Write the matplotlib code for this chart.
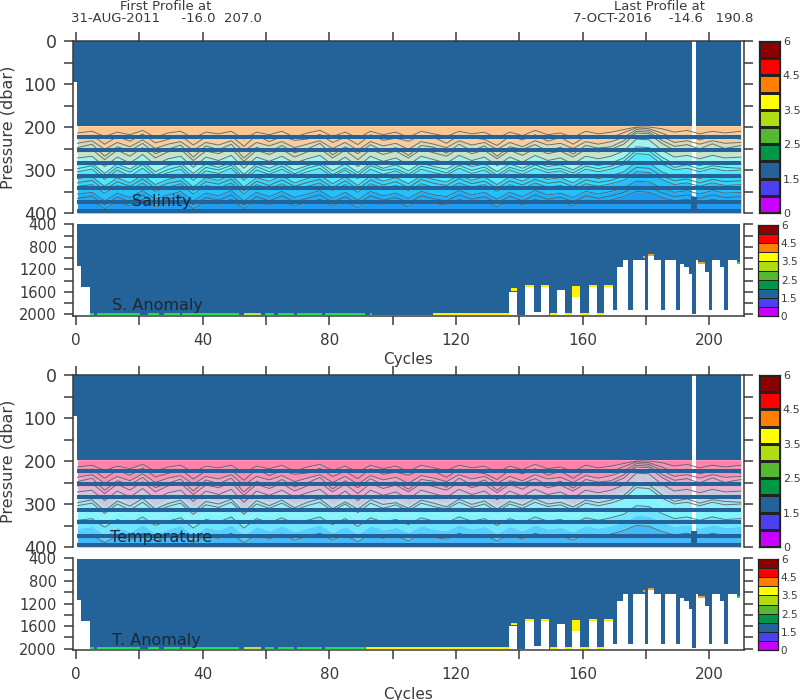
import numpy as np
import matplotlib
matplotlib.use('Agg')
import matplotlib.pyplot as plt
from matplotlib.colors import ListedColormap

W, H = 800., 700.
INK = '#3a3a3a'
BLUE = '#236399'

iso_cycles = [0.4] + list(range(5, 206, 4)) + [210]

# isoline pressures (dbar), upper ocean, top to bottom
iso0 = [214,210,222,212,218,208,224,214,210,226,212,216,210,228,212,218,210,224,214,208,222,212,226,210,218,212,224,210,216,222,210,216,212,226,212,220,208,218,214,224,210,216,212,206,200,200,204,212,208,216,210,214,210]
iso1 = [238,232,252,236,246,230,250,240,234,254,236,242,232,256,236,244,234,248,240,232,250,236,254,234,244,238,252,234,240,248,232,242,236,252,236,246,232,242,238,250,234,240,234,224,206,208,222,236,232,240,232,238,236]
iso2 = [258,252,276,254,268,248,272,258,252,278,256,262,250,280,254,264,252,270,258,250,272,254,276,252,264,256,272,252,260,268,250,262,254,274,254,266,250,262,256,270,252,258,252,240,214,216,238,254,250,258,250,256,254]
iso3 = [272,268,292,270,284,264,288,274,268,294,270,278,266,296,270,280,268,284,274,266,288,270,292,268,280,272,288,268,276,284,266,278,270,290,270,282,266,278,272,286,268,274,268,256,228,230,254,270,266,274,266,272,270]
iso4 = [288,284,308,286,298,280,304,290,284,308,286,294,282,310,286,296,284,300,290,282,302,286,306,284,296,288,302,284,292,298,282,292,286,304,286,296,282,292,288,300,284,290,284,272,246,248,270,286,282,290,282,288,286]
iso5 = [304,298,322,300,314,296,318,306,298,324,302,308,296,324,300,310,298,314,304,296,316,300,320,298,310,302,316,298,306,312,296,308,300,318,300,310,296,306,302,314,298,304,298,288,262,264,286,300,296,304,296,302,300]
iso6 = [320,316,338,318,330,312,334,322,316,340,318,324,312,340,318,326,314,330,320,312,332,316,336,314,326,318,332,314,322,328,312,324,316,334,316,326,312,322,318,330,314,320,314,304,282,284,304,316,312,320,312,318,316]
iso7 = [338,334,354,336,346,330,350,340,332,356,336,342,330,356,334,344,332,346,338,330,348,334,352,332,342,336,348,332,340,344,330,340,334,350,334,344,330,340,336,346,332,338,332,324,304,306,322,334,330,338,330,336,334]
iso8 = [356,352,372,354,364,348,368,358,350,372,354,360,348,372,352,362,350,364,356,348,366,352,370,350,360,354,366,350,358,362,348,358,352,368,352,362,348,358,354,364,350,356,350,342,326,328,342,352,348,356,348,354,352]
iso9 = [376,372,390,374,384,368,386,378,370,390,374,380,368,390,372,382,370,384,376,368,384,372,388,370,380,374,386,370,378,382,368,378,372,386,372,382,368,378,374,384,370,376,370,362,350,352,364,372,368,376,368,374,372]
isolines = [iso0, iso1, iso2, iso3, iso4, iso5, iso6, iso7, iso8, iso9]

# in-between contours, drawn as lines only
extra_a = [226,219,240,222,233,216,237,229,220,242,223,227,221,245,219,234,222,231,228,217,236,224,241,218,231,226,233,220,224,238,219,225,229,243,221,230,218,233,224,240,222,227,225,213,202,204,214,226,219,230,222,224,228]
extra_b = [248,240,268,246,255,238,262,252,242,270,244,253,240,272,247,258,243,260,251,238,265,246,262,241,256,248,266,243,247,261,240,255,244,268,246,252,241,256,247,263,243,249,246,232,210,212,231,245,241,251,239,250,243]
extra_c = [297,290,316,293,305,287,312,299,291,318,294,300,289,319,292,304,291,309,296,288,311,295,312,290,301,297,310,291,298,307,289,301,293,312,294,303,288,300,296,307,291,297,291,280,254,256,278,294,288,298,290,294,296]
extra_d = [330,324,347,327,338,321,342,331,325,348,327,333,321,349,326,336,323,338,329,322,341,325,345,323,335,327,341,322,331,336,320,332,326,343,325,335,322,331,327,339,323,329,324,314,294,296,314,325,321,330,322,327,325]
extra_e = [366,361,381,363,374,358,377,368,360,381,364,370,358,382,362,372,360,374,366,358,375,362,379,360,370,364,376,360,367,372,358,368,362,377,361,372,358,368,363,374,360,366,360,352,338,340,353,362,358,366,358,364,362]
sal_extras = [extra_a, extra_b, extra_c, extra_d, extra_e]
tem_extras = [extra_a, extra_b, extra_c]

# measured levels that stay flagged blue
bar_levels = [223, 254, 283, 314, 343, 374, 395]

# band colours between the isolines
sal_bands = ['#FDC68F', '#F7CDA0', '#D2DCBC', '#C6E4CB', '#A0F4EE', '#66F6FF', '#4FE8FF', '#33D6FF', '#22C0FF', '#1EAEFF', '#1E9CF5']
tem_bands = ['#FF82A8', '#FA90B5', '#F0A5C8', '#E8B0D2', '#C9C8DC', '#B4DCEA', '#8DF2FF', '#80F5FF', '#6FE6FF', '#55CFFF', '#45B8FA']

# deep part: runs of cycles and how far the profile went down
deep_start = [0.4, 1.4, 4.4, 136.8, 139.4, 141.9, 144.5, 146.8, 149.5, 151.9, 154.5, 156.8, 159.3, 161.9, 164.5, 166.8, 169.6, 170.8, 172.9, 174.5, 175.8, 178.7, 179.8, 180.8, 182.6, 184.7, 185.9, 189.6, 190.8, 191.9, 193.6, 194.6, 195.9, 196.6, 198.7, 199.8, 200.8, 203.5, 204.7, 205.9, 208.7]
deep_end = [1.4, 4.4, 136.8, 139.4, 141.9, 144.5, 146.8, 149.5, 151.9, 154.5, 156.8, 159.3, 161.9, 164.5, 166.8, 169.6, 170.8, 172.9, 174.5, 175.8, 178.7, 179.8, 180.8, 182.6, 184.7, 185.9, 189.6, 190.8, 191.9, 193.6, 194.6, 195.9, 196.6, 198.7, 199.8, 200.8, 203.5, 204.7, 205.9, 208.7, 209.8]
deep_bottom = [1140, 1510, 2010, 1600, 2010, 1513, 1950, 1513, 2010, 1570, 2010, 1513, 2010, 1513, 2010, 1513, 1920, 1150, 1035, 1920, 1035, 1035, 1920, 960, 1035, 1920, 1035, 1920, 1100, 1150, 1290, 1990, 1035, 1100, 1240, 1920, 1035, 1150, 1920, 1035, 1100]

# coloured cells at the very bottom of the deep panels
s_strip_start = [4.4, 6.5, 22.6, 27.8, 33.4, 52.9, 59.7, 63.7, 69.7, 78.7, 92.9, 112.6, 149.7, 154.5, 159.3, 164.5]
s_strip_end = [5.5, 20.2, 26.2, 32.8, 51.3, 58.5, 62.6, 68.7, 77.6, 91.3, 93.5, 136.8, 151.9, 156.8, 161.9, 166.8]
s_strip_col = ['#22DD55'] * 5 + ['#B4E64B'] + ['#22DD55'] * 5 + ['#FFF000'] * 5
t_strip_start = [4.4, 6.5, 22.6, 27.8, 33.4, 52.9, 59.7, 63.7, 69.7, 78.7, 91.5, 149.7, 154.5, 159.3, 164.5]
t_strip_end = [5.5, 20.2, 26.2, 32.8, 51.3, 58.5, 62.6, 68.7, 77.6, 91.3, 136.8, 151.9, 156.8, 161.9, 166.8]
t_strip_col = ['#22DD55'] * 5 + ['#B4E64B'] + ['#22DD55'] * 4 + ['#FFF000'] * 5

# caps on top of the shallow profiles
cap_start = [137.5, 141.9, 146.8, 156.8, 161.9, 166.8, 179.0, 180.8, 196.6, 208.7]
cap_end = [139.4, 144.5, 149.5, 159.3, 164.5, 169.6, 179.8, 182.6, 198.7, 209.8]
cap_top = [1540, 1480, 1480, 1490, 1480, 1480, 960, 930, 1070, 1070]
cap_bot = [1580, 1513, 1513, 1690, 1513, 1513, 1000, 960, 1100, 1110]
cap_col = ['#FFF000', '#FFF000', '#FFF000', '#FFF000', '#FFF000', '#FFF000', '#F0A030', '#F0A030', '#F0A030', '#22DD55']

bar_colors = ['#C800FF', '#4B40F0', BLUE, '#009646', '#55B82E', '#B0DC14', '#FFFF00', '#FF7F00', '#FF0000', '#8B0000']
bar_ticks = [0, 2, 4, 6, 8, 10]
bar_labels = ['0', '1.5', '2.5', '3.5', '4.5', '6']


def px_axes(x0, y0, x1, y1):
    return plt.gcf().add_axes([x0 / W, 1 - y1 / H, (x1 - x0) / W, (y1 - y0) / H])


def style(ax):
    for s in ax.spines.values():
        s.set_linewidth(1.1)
        s.set_color(INK)
    ax.set_xlim(-1, 211)
    ax.set_xticks(range(0, 201, 20))


def upper_panel(y0, y1, bands, label, contour_idx, extras, label_pos):
    ax = px_axes(73, y0, 744, y1)
    style(ax)
    ax.set_ylim(400, 0)
    ax.set_yticks(range(0, 401, 50))
    ax.set_yticklabels([str(v) if v % 100 == 0 else '' for v in range(0, 401, 50)], fontsize=12.5, color=INK)
    ax.tick_params(axis='y', left=True, right=True, length=6.8, width=1.1, color=INK, pad=5)
    ax.tick_params(axis='x', top=True, bottom=False, labelbottom=False, length=6.8, width=1.1, color=INK)
    ax.spines['bottom'].set_visible(False)
    ax.set_ylabel('Pressure (dbar)', fontsize=11.5, color=INK)
    ax.yaxis.set_label_coords((16 - 73) / 671., 0.5)

    ax.bar(-1, 95, width=1.4, bottom=0, align='edge', color=BLUE, lw=0)
    ax.bar(0.4, 198, width=209.6, bottom=0, align='edge', color=BLUE, lw=0)

    x = np.array(iso_cycles, dtype=float)
    edges = [np.full(len(x), 197.)] + [np.array(l, dtype=float) for l in isolines] + [np.full(len(x), 400.)]
    for i in range(len(bands)):
        ax.fill_between(x, edges[i], edges[i + 1], color=bands[i], lw=0)
    for i in contour_idx:
        ax.plot(x, isolines[i], color='#4f5f5f', lw=0.7, alpha=0.85)
    for line in extras:
        ax.plot(x, line, color='#4f5f5f', lw=0.7, alpha=0.85)
    ax.hlines(bar_levels, 0.4, 210, color=BLUE, lw=2.9)
    ax.bar(194.4, 37, width=1.7, bottom=363, align='edge', color=BLUE, lw=0)
    ax.bar(194.6, 363, width=1.3, bottom=0, align='edge', color='white', lw=0)
    ax.text(label_pos[0], label_pos[1], label, fontsize=11.5, color='#1c2833', va='center')
    return ax


def lower_panel(y0, y1, strip_start, strip_end, strip_col, label, label_pos):
    ax = px_axes(73, y0, 744, y1)
    style(ax)
    ax.set_ylim(2020, 400)
    ax.set_yticks(range(400, 2001, 200))
    ax.set_yticklabels([str(v) if v % 400 == 0 else '' for v in range(400, 2001, 200)], fontsize=10.5, color=INK)
    ax.tick_params(axis='y', left=True, right=True, length=6.8, width=1.1, color=INK, pad=5)
    ax.tick_params(axis='x', bottom=True, length=6.8, width=1.1, color=INK, pad=6)
    ax.set_xticklabels([str(v) if v % 40 == 0 else '' for v in range(0, 201, 20)], fontsize=11, color=INK)
    ax.spines['top'].set_visible(False)
    ax.set_xlabel('Cycles', fontsize=11, color=INK, labelpad=3)

    s = np.array(deep_start)
    e = np.array(deep_end)
    b = np.array(deep_bottom, dtype=float)
    ax.bar(s, b - 400, width=e - s, bottom=400, align='edge', color=BLUE, lw=0)
    ss = np.array(strip_start)
    se = np.array(strip_end)
    ax.bar(ss, np.full(len(ss), 25.), width=se - ss, bottom=1980, align='edge', color=strip_col, lw=0)
    cs = np.array(cap_start)
    ce = np.array(cap_end)
    ax.bar(cs, np.array(cap_bot) - np.array(cap_top), width=ce - cs, bottom=cap_top, align='edge', color=cap_col, lw=0)
    ax.text(label_pos[0], label_pos[1], label, fontsize=11.5, color='#1c2833', va='center')
    return ax


def color_bar(x0, y0, x1, y1, fs, edge):
    ax = px_axes(x0, y0, x1, y1)
    cmap = ListedColormap(bar_colors)
    lv = np.arange(len(bar_colors) + 1)
    ax.pcolormesh([0, 1], lv, np.arange(len(bar_colors)).reshape(-1, 1), cmap=cmap, edgecolors='#222222', linewidth=edge)
    ax.set_xlim(0, 1)
    ax.set_ylim(0, 10)
    ax.set_xticks([])
    ax.yaxis.tick_right()
    ax.set_yticks(bar_ticks)
    ax.set_yticklabels(bar_labels, fontsize=fs, color=INK)
    ax.tick_params(axis='y', length=0, pad=2)
    for s in ax.spines.values():
        s.set_linewidth(0.9)
        s.set_color('#222222')


fig = plt.figure(figsize=(8, 7), dpi=100)

upper_panel(41, 213, sal_bands, 'Salinity', range(10), sal_extras, (17.7, 374))
lower_panel(224.3, 315.5, s_strip_start, s_strip_end, s_strip_col, 'S. Anomaly', (11.4, 1851))
upper_panel(375, 547, tem_bands, 'Temperature', [0, 1, 2, 3, 5, 7, 9], tem_extras, (10.7, 377))
lower_panel(558.5, 649.7, t_strip_start, t_strip_end, t_strip_col, 'T. Anomaly', (11.4, 1851))

color_bar(759, 41, 780, 213, 8, 0.8)
color_bar(758, 225, 778, 316, 7.5, 0.6)
color_bar(759, 375, 780, 547, 8, 0.8)
color_bar(758, 559, 778, 650, 7.5, 0.6)

fig.text(166 / W, 1 - 6 / H, 'First Profile at', ha='center', va='center', fontsize=9.5, color=INK)
fig.text(166 / W, 1 - 18 / H, '31-AUG-2011     -16.0  207.0', ha='center', va='center', fontsize=9.5, color=INK)
fig.text(660 / W, 1 - 6 / H, 'Last Profile at', ha='center', va='center', fontsize=9.5, color=INK)
fig.text(663 / W, 1 - 18 / H, '7-OCT-2016    -14.6   190.8', ha='center', va='center', fontsize=9.5, color=INK)

fig.savefig('out.png', dpi=100)
